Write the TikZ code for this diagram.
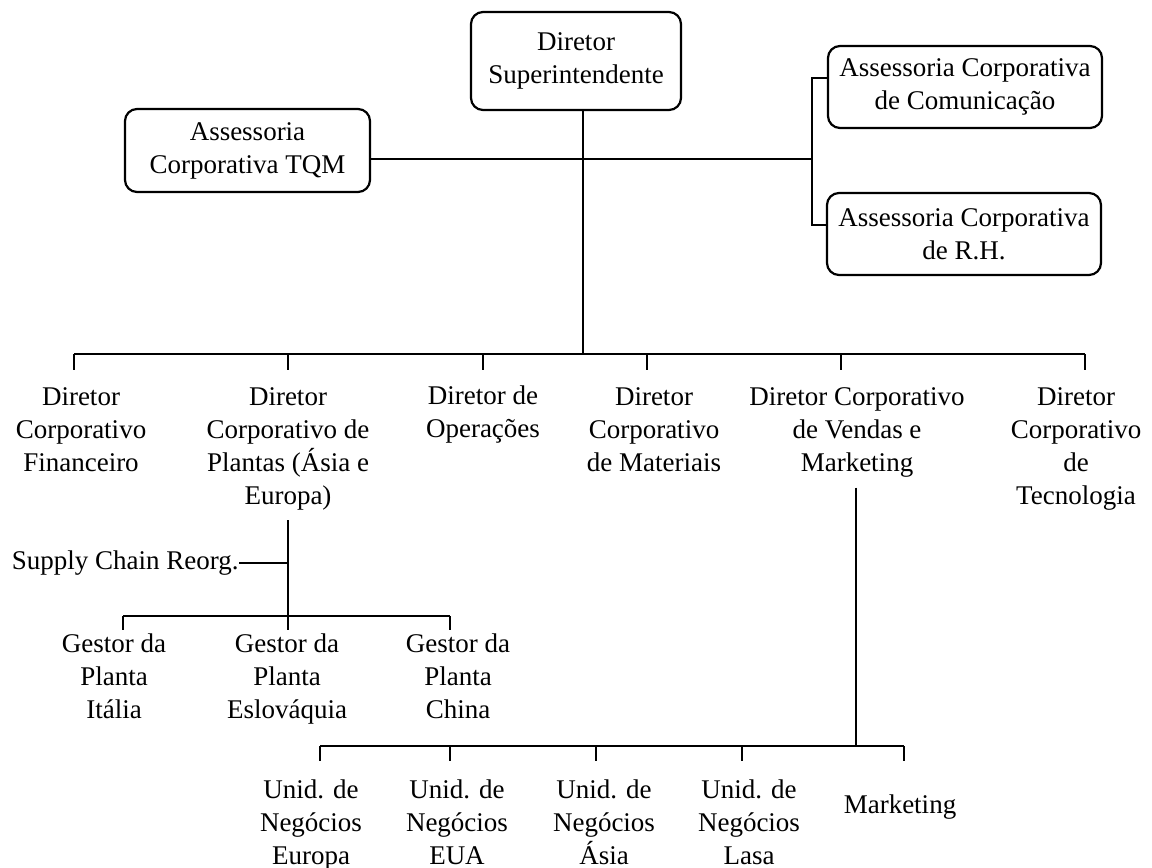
\documentclass[tikz,border=0pt]{standalone}
\usepackage{fontspec}
\setmainfont{Liberation Serif}
\begin{document}
\begin{tikzpicture}[x=0.5pt,y=-0.5pt,
  every node/.style={font=\fontsize{13.5}{16.5}\selectfont, align=center, inner sep=0pt},
  unitbox/.style={draw, line width=1.1pt, rounded corners=6pt},
  label/.style={anchor=north},
  link/.style={line width=0.6pt},
  bar/.style={line width=1.3pt}]
\useasboundingbox (0,0) rectangle (1152,868);

% top level and staff boxes
\node[unitbox, minimum width=105pt, minimum height=49pt] (top) at (576,61) {Diretor\\Superintendente};
\node[unitbox, minimum width=122.5pt, minimum height=41.5pt] (tqm) at (247.5,150.5) {Assessoria\\Corporativa TQM};
\node[unitbox, minimum width=137pt, minimum height=41pt] (com) at (965,87) {Assessoria Corporativa\\de Comunicação};
\node[unitbox, minimum width=137pt, minimum height=41pt] (rh) at (964,234) {Assessoria Corporativa\\de R.H.};

% junction points
\coordinate (hub) at (583,354);
\coordinate (brk) at (812,159);

\draw[link] (top.south -| hub) -- (hub);
\draw[bar] (tqm.east |- brk) -- (brk);
\draw[link] ([yshift=4.5pt]com.west) -| (brk);
\draw[link] ([yshift=4.5pt]rh.west) -| (brk);

% directors
\node[label] (fin) at (81,387) {Diretor\\Corporativo\\Financeiro};
\node[label] (pla) at (288,387) {Diretor\\Corporativo de\\Plantas (Ásia e\\Europa)};
\node[label] (ope) at (483,385.5) {Diretor de\\Operações};
\node[label] (mat) at (654,387) {Diretor\\Corporativo\\de Materiais};
\node[label] (ven) at (857,387) {Diretor Corporativo\\de Vendas e\\Marketing};
\node[label] (tec) at (1076,387) {Diretor\\Corporativo\\de\\Tecnologia};

\coordinate (dFin) at (74,370);
\coordinate (dPla) at (288,370);
\coordinate (dOpe) at (483,370);
\coordinate (dMat) at (647,370);
\coordinate (dVen) at (841,370);
\coordinate (dTec) at (1085,370);

\draw[bar] (dFin |- hub) -- (dTec |- hub);
\foreach \d in {dFin,dPla,dOpe,dMat,dVen,dTec}
  \draw[link] (\d |- hub) -- (\d);

% plant managers
\node[anchor=east] (sup) at (239,563) {Supply Chain Reorg.};
\node[label] (git) at (114,633) {Gestor da\\Planta\\Itália};
\node[label] (ges) at (287,633) {Gestor da\\Planta\\Eslováquia};
\node[label] (gch) at (458,633) {Gestor da\\Planta\\China};

\coordinate (gbar) at (288,616);
\coordinate (gIt) at (123,630);
\coordinate (gEs) at (288,630);
\coordinate (gCh) at (450,630);

\draw[link] ([yshift=-5pt]pla.south) -- (gEs);
\draw[link] (sup.east) -- (sup.east -| gbar);
\draw[bar] (gIt |- gbar) -- (gCh |- gbar);
\draw[link] (gIt |- gbar) -- (gIt);
\draw[link] (gCh |- gbar) -- (gCh);

% business units
\node[label] (ueu) at (311,779) {Unid. de\\Negócios\\Europa};
\node[label] (uus) at (457,779) {Unid. de\\Negócios\\EUA};
\node[label] (uas) at (604,779) {Unid. de\\Negócios\\Ásia};
\node[label] (ula) at (749,779) {Unid. de\\Negócios\\Lasa};
\node (mkt) at (900,807) {Marketing};

\coordinate (ubar) at (856,746);
\coordinate (uEu) at (320,761);
\coordinate (uUs) at (450,761);
\coordinate (uAs) at (596,761);
\coordinate (uLa) at (742,761);
\coordinate (uMk) at (904,761);

\draw[link] ([yshift=-5pt]ven.south -| ubar) -- (ubar);
\draw[bar] (uEu |- ubar) -- (uMk |- ubar);
\foreach \u in {uEu,uUs,uAs,uLa,uMk}
  \draw[link] (\u |- ubar) -- (\u);
\end{tikzpicture}
\end{document}
